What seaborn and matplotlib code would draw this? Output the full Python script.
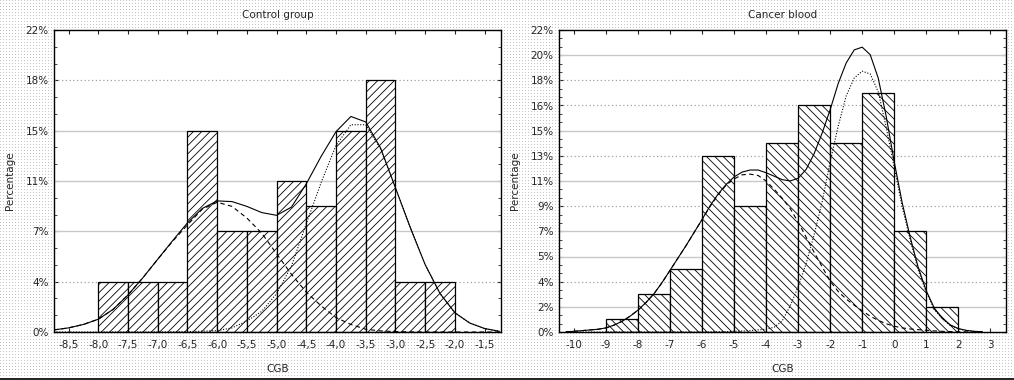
import numpy as np
import matplotlib
matplotlib.use("Agg")
import matplotlib.pyplot as plt
from matplotlib.lines import Line2D
import seaborn as sns

# --- DADOS ---
# Control group: histograma (bins de 0,5)
ctrl_edges = [-8.0, -7.5, -7.0, -6.5, -6.0, -5.5, -5.0, -4.5, -4.0, -3.5, -3.0, -2.5, -2.0]
ctrl_pct = [3.67, 3.67, 3.67, 14.67, 7.33, 7.33, 11.0, 9.17, 14.67, 18.33, 3.67, 3.67]

# curvas ajustadas (mistura de normais) lidas ponto a ponto
ctrl_x = [-8.75, -8.5, -8.25, -8.0, -7.75, -7.5, -7.25, -7.0, -6.75, -6.5, -6.25, -6.0,
          -5.75, -5.5, -5.25, -5.0, -4.75, -4.5, -4.25, -4.0, -3.75, -3.5, -3.25, -3.0,
          -2.75, -2.5, -2.25, -2.0, -1.75, -1.5, -1.25]
ctrl_total = [0.15, 0.3, 0.55, 0.93, 1.65, 2.7, 3.95, 5.3, 6.65, 7.95, 9.0, 9.55,
              9.5, 9.15, 8.7, 8.5, 9.1, 10.8, 12.8, 14.6, 15.7, 15.3, 13.4, 10.5,
              7.6, 4.9, 2.8, 1.4, 0.65, 0.25, 0.05]
ctrl_comp1 = [0.15, 0.3, 0.55, 0.93, 1.65, 2.7, 3.95, 5.3, 6.6, 7.8, 8.95, 9.45,
              9.15, 8.3, 7.2, 5.7, 4.2, 2.9, 1.9, 1.05, 0.55, 0.2, 0.08, 0.03,
              0.01, 0.0, 0.0, 0.0, 0.0, 0.0, 0.0]
ctrl_comp2 = [0.0, 0.0, 0.0, 0.0, 0.0, 0.0, 0.0, 0.0, 0.01, 0.03, 0.06, 0.1,
              0.3, 0.8, 1.5, 2.8, 4.8, 7.9, 10.9, 13.6, 15.1, 15.1, 13.3, 10.5,
              7.6, 4.9, 2.8, 1.4, 0.65, 0.25, 0.05]

# Cancer blood: histograma (bins de 1)
canc_edges = [-9, -8, -7, -6, -5, -4, -3, -2, -1, 0, 1, 2]
canc_pct = [0.92, 2.75, 4.58, 12.83, 9.17, 13.75, 16.5, 13.75, 17.42, 7.33, 1.83]

canc_x = [-10.25, -10.0, -9.75, -9.5, -9.25, -9.0, -8.75, -8.5, -8.25, -8.0, -7.75, -7.5,
          -7.25, -7.0, -6.75, -6.5, -6.25, -6.0, -5.75, -5.5, -5.25, -5.0, -4.75, -4.5,
          -4.25, -4.0, -3.75, -3.5, -3.25, -3.0, -2.75, -2.5, -2.25, -2.0, -1.75, -1.5,
          -1.25, -1.0, -0.75, -0.5, -0.25, 0.0, 0.25, 0.5, 0.75, 1.0, 1.25, 1.5,
          1.75, 2.0, 2.25, 2.5, 2.75]
canc_total = [0.02, 0.05, 0.1, 0.15, 0.2, 0.3, 0.5, 0.78, 1.15, 1.6, 2.15, 2.8,
              3.6, 4.5, 5.4, 6.3, 7.25, 8.2, 9.2, 10.05, 10.75, 11.3, 11.65, 11.8,
              11.8, 11.6, 11.35, 11.1, 11.0, 11.2, 11.85, 13.0, 14.5, 16.2, 18.1, 19.6,
              20.55, 20.75, 20.2, 18.5, 15.7, 12.4, 9.4, 6.9, 4.7, 3.0, 1.75, 1.0,
              0.52, 0.25, 0.12, 0.05, 0.02]
canc_comp1 = [0.02, 0.05, 0.1, 0.15, 0.2, 0.3, 0.5, 0.78, 1.15, 1.6, 2.15, 2.8,
              3.6, 4.5, 5.4, 6.3, 7.25, 8.2, 9.15, 10.0, 10.7, 11.15, 11.45, 11.5,
              11.4, 11.0, 10.4, 9.75, 9.0, 8.0, 6.9, 5.8, 4.75, 3.7, 2.95, 2.4,
              1.95, 1.55, 1.15, 0.85, 0.6, 0.42, 0.3, 0.22, 0.17, 0.13, 0.08, 0.05,
              0.03, 0.02, 0.01, 0.0, 0.0]
canc_comp2 = [0.0, 0.0, 0.0, 0.0, 0.0, 0.0, 0.0, 0.0, 0.0, 0.0, 0.0, 0.0,
              0.0, 0.0, 0.0, 0.0, 0.0, 0.0, 0.01, 0.02, 0.03, 0.05, 0.07, 0.1,
              0.15, 0.2, 0.35, 0.8, 1.9, 3.3, 5.0, 7.1, 9.5, 12.4, 15.0, 17.2,
              18.5, 19.0, 18.8, 17.5, 14.9, 12.0, 9.1, 6.7, 4.5, 2.9, 1.65, 0.95,
              0.48, 0.23, 0.1, 0.04, 0.01]

ctrl_yticks = [0, 22 / 6, 2 * 22 / 6, 3 * 22 / 6, 4 * 22 / 6, 5 * 22 / 6, 22]
ctrl_ylabels = ["0%", "4%", "7%", "11%", "15%", "18%", "22%"]
ctrl_xticks = [-8.5, -8.0, -7.5, -7.0, -6.5, -6.0, -5.5, -5.0, -4.5, -4.0, -3.5, -3.0, -2.5, -2.0, -1.5]
ctrl_xlabels = ["-8,5", "-8,0", "-7,5", "-7,0", "-6,5", "-6,0", "-5,5", "-5,0",
                "-4,5", "-4,0", "-3,5", "-3,0", "-2,5", "-2,0", "-1,5"]

canc_yticks = [i * 22 / 12 for i in range(13)]
canc_ylabels = ["0%", "2%", "4%", "5%", "7%", "9%", "11%", "13%", "15%", "16%", "18%", "20%", "22%"]
canc_xticks = [-10, -9, -8, -7, -6, -5, -4, -3, -2, -1, 0, 1, 2, 3]
canc_xlabels = [str(v) for v in canc_xticks]

# estilo das linhas de grade (solid / dotted), como aparecem na imagem
ctrl_grid = [None, "dot", "solid", "solid", "solid", "dot", None]
canc_grid = [None, "solid", "dot", "solid", "solid", "dot", "solid", "dot", "solid",
             "dot", "dot", "solid", None]

W, H = 1014, 380


def draw_panel(ax, edges, pct, hatch, cx, tot, c1, c2, xlim, xticks, xlabels,
               yticks, ylabels, grid, title):
    centers = [(edges[i] + edges[i + 1]) / 2 for i in range(len(pct))]
    sns.histplot(x=centers, weights=pct, bins=edges, ax=ax, stat="count",
                 color="white", edgecolor="black", linewidth=0.9, alpha=1, zorder=2)
    for p in ax.patches:
        p.set_hatch(hatch)

    sns.lineplot(x=cx, y=tot, ax=ax, color="black", lw=0.8, estimator=None, zorder=4)
    sns.lineplot(x=cx, y=c1, ax=ax, color="black", lw=0.8, estimator=None, zorder=4,
                 linestyle=(0, (4, 3)))
    sns.lineplot(x=cx, y=c2, ax=ax, color="black", lw=0.8, estimator=None, zorder=4,
                 linestyle=(0, (1, 1.5)))

    for yv, g in zip(yticks, grid):
        if g == "solid":
            ax.axhline(yv, color="#c8c8c8", lw=1.0, zorder=1)
        elif g == "dot":
            ax.axhline(yv, color="#a0a0a0", lw=0.9, linestyle=(0, (1, 2)), zorder=1)

    ax.set_xlim(*xlim)
    ax.set_ylim(0, 22)
    ax.set_xticks(xticks)
    ax.set_xticklabels(xlabels)
    ax.set_yticks(yticks)
    ax.set_yticklabels(ylabels)
    step = yticks[1] - yticks[0]
    ax.set_yticks(np.arange(0, 22.001, step / 3), minor=True)
    ax.tick_params(axis="both", which="major", labelsize=7.5, direction="in",
                   length=3, width=0.8, top=True, right=True)
    ax.tick_params(axis="y", which="minor", direction="in", length=2, width=0.6,
                   left=True, right=True)
    ax.tick_params(axis="x", which="major", pad=6)
    ax.tick_params(axis="y", which="major", pad=4)
    ax.set_xlabel("CGB", fontsize=7.5, labelpad=10)
    ax.set_ylabel("Percentage", fontsize=7.5, labelpad=8)
    ax.set_title(title, fontsize=7.5, pad=9)
    for s in ax.spines.values():
        s.set_visible(True)
        s.set_color("black")
        s.set_linewidth(1.0)
    ax.set_facecolor("white")


def main():
    sns.set_style("ticks")
    plt.rcParams["font.family"] = ["DejaVu Sans"]
    plt.rcParams["hatch.linewidth"] = 0.6
    plt.rcParams["hatch.color"] = "black"

    fig = plt.figure(figsize=(W / 100, H / 100), dpi=100)
    fig.patch.set_facecolor("#f6f6f6")

    # fundo pontilhado (leve)
    rr, cc = np.mgrid[0:H, 0:W]
    dots = (rr % 3 == 0) & ((cc + rr) % 3 == 0)
    bg = np.ones((H, W, 3))
    bg[dots] = 0.78
    fig.figimage(bg, xo=0, yo=0, zorder=-1)

    ax1 = fig.add_axes([54.3 / W, 1 - 332 / H, 446.4 / W, 302 / H])
    ax2 = fig.add_axes([559.3 / W, 1 - 332 / H, 447 / W, 302 / H])

    draw_panel(ax1, ctrl_edges, ctrl_pct, "////", ctrl_x, ctrl_total, ctrl_comp1, ctrl_comp2,
               (-8.74, -1.23), ctrl_xticks, ctrl_xlabels, ctrl_yticks, ctrl_ylabels,
               ctrl_grid, "Control group")
    draw_panel(ax2, canc_edges, canc_pct, "\\\\\\\\", canc_x, canc_total, canc_comp1, canc_comp2,
               (-10.46, 3.5), canc_xticks, canc_xlabels, canc_yticks, canc_ylabels,
               canc_grid, "Cancer blood")

    fig.add_artist(Line2D([0, 1], [1.5 / H, 1.5 / H], transform=fig.transFigure,
                          color="black", lw=1.2))

    fig.savefig("out.png", dpi=100, facecolor=fig.get_facecolor())


if __name__ == "__main__":
    main()
